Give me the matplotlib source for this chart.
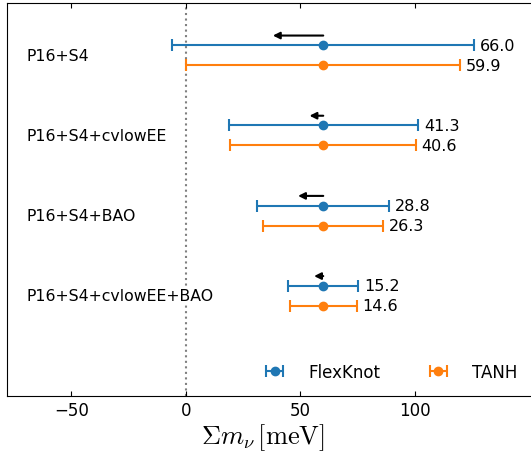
import matplotlib
matplotlib.use("Agg")
import matplotlib.pyplot as plt
import numpy as np

plt.rcParams['mathtext.fontset'] = 'cm'
plt.rcParams['font.family'] = ['DejaVu Sans']

datasets = ["P16+S4", "P16+S4+cvlowEE", "P16+S4+BAO", "P16+S4+cvlowEE+BAO"]
center = 60.0
flexknot_err = [66.0, 41.3, 28.8, 15.2]
tanh_err = [59.9, 40.6, 26.3, 14.6]
arrow_shift = [-22.0, -6.0, -11.0, -4.0]
xticks = [-50, 0, 50, 100]

blue = '#1f77b4'
orange = '#ff7f0e'

fig = plt.figure(figsize=(5.31, 4.52), dpi=100)
ax = fig.add_axes([7.3/531, 1-396.7/452, 1-7.3/531+0.002, (396.7-4)/452])

ax.axvline(0, color='gray', ls=':', lw=1.5, zorder=0)

ys = -np.arange(len(datasets))
off = 0.125
h_fk = h_t = None
for i, y in enumerate(ys):
    h_fk = ax.errorbar([center], [y + off], xerr=[flexknot_err[i]], fmt='o', color=blue,
                       ms=6, lw=1.5, capsize=4, capthick=1.5, label='FlexKnot')
    h_t = ax.errorbar([center], [y - off], xerr=[tanh_err[i]], fmt='o', color=orange,
                      ms=6, lw=1.5, capsize=4, capthick=1.5, label='TANH')
    ax.text(center + flexknot_err[i] + 2.6, y + off, f"{flexknot_err[i]:.1f}",
            ha='left', va='center', fontsize=11.5)
    ax.text(center + tanh_err[i] + 2.3, y - off, f"{tanh_err[i]:.1f}",
            ha='left', va='center', fontsize=11.5)
    ax.annotate('', xy=(center + arrow_shift[i], y + off + 0.12), xytext=(center, y + off + 0.12),
                arrowprops=dict(arrowstyle='-|>', color='k', lw=1.5, mutation_scale=10,
                                shrinkA=0, shrinkB=0))
    ax.text(-69.7, y, datasets[i], ha='left', va='center', fontsize=11.3,
            bbox=dict(facecolor='white', edgecolor='none', pad=1))

ax.set_xlim(-78, 151.2)
ax.set_ylim(-4.247, 0.651)
ax.set_yticks([])
ax.set_xticks(xticks)
ax.tick_params(axis='x', direction='in', top=True, bottom=True, labelsize=12)
ax.spines['right'].set_visible(False)
ax.set_xlabel(r'$\Sigma m_\nu\,[\mathrm{meV}]$', fontsize=19, labelpad=2)
ax.xaxis.set_label_coords(0.487, -0.066)

ax.legend(handles=[h_fk, h_t], labels=['FlexKnot', 'TANH'], loc='lower right', ncol=2,
          frameon=False, fontsize=12, handlelength=1.2, handletextpad=1.4, columnspacing=2.9)

fig.savefig('out.png', dpi=100)
